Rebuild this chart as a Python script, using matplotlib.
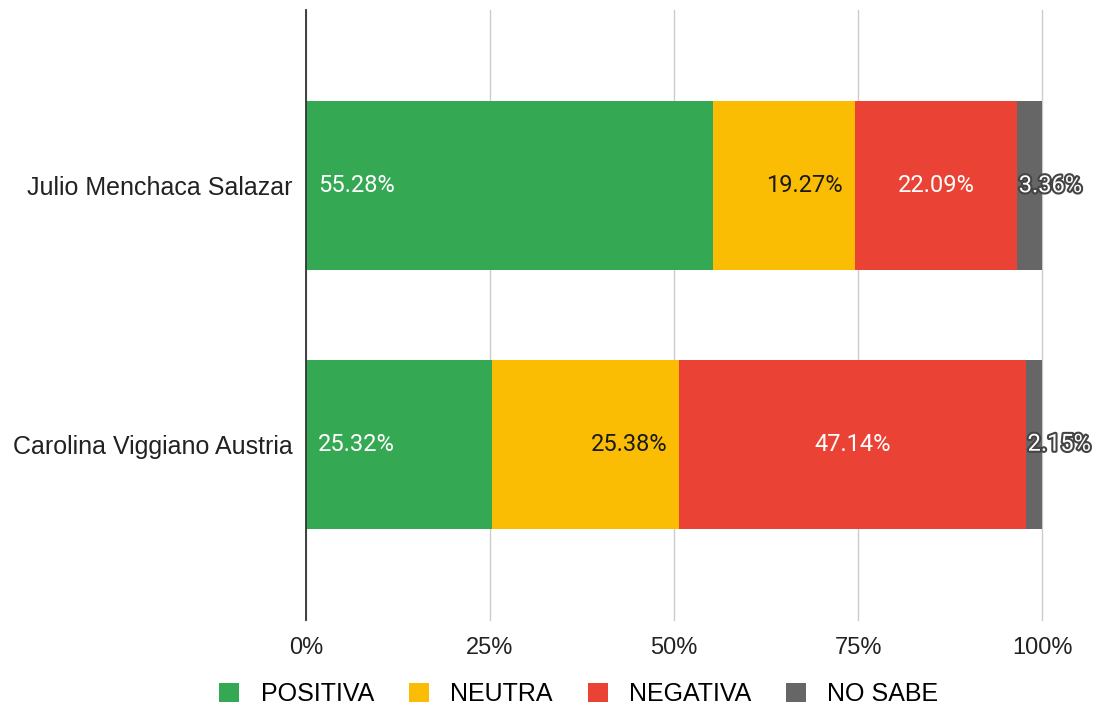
import matplotlib
matplotlib.use('Agg')
import matplotlib.pyplot as plt
import matplotlib.patheffects as pe
from matplotlib.patches import Patch

plt.rcParams['font.family'] = ['Liberation Sans', 'DejaVu Sans']

# Data
candidates = ["Julio Menchaca Salazar", "Carolina Viggiano Austria"]
series = ["POSITIVA", "NEUTRA", "NEGATIVA", "NO SABE"]
positiva = [55.28, 25.32]
neutra = [19.27, 25.38]
negativa = [22.09, 47.14]
no_sabe = [3.36, 2.15]
x_ticks = [0, 25, 50, 75, 100]

colors = ["#34a853", "#fbbc04", "#ea4335", "#666666"]
lbl_font = ['Roboto', 'DejaVu Sans']

fig = plt.figure(figsize=(11.05, 7.08), dpi=100)
ax = fig.add_axes([0.2769, 0.1243, 0.6661, 0.8616])

ypos = list(range(len(candidates)))
bar_h = 0.654
values = [positiva, neutra, negativa, no_sabe]
lefts = [0.0] * len(candidates)
for s, (vals, col) in enumerate(zip(values, colors)):
    ax.barh(ypos, vals, left=lefts, height=bar_h, color=col, zorder=3)
    for i, v in enumerate(vals):
        start = lefts[i]
        end = start + v
        txt = f"{v:.2f}%"
        if s == 0:
            ax.text(start + 1.6, i, txt, ha='left', va='center', color='white', fontsize=17,
                    family=lbl_font, zorder=4)
        elif s == 1:
            ax.text(end - 1.6, i, txt, ha='right', va='center', color='#1a1a1a', fontsize=17,
                    family=lbl_font, zorder=4)
        elif s == 2:
            ax.text((start + end) / 2, i, txt, ha='center', va='center', color='white', fontsize=17,
                    family=lbl_font, zorder=4)
        else:
            ax.text(start + 0.2, i, txt, ha='left', va='center', color='white', fontsize=17,
                    family=lbl_font, zorder=4,
                    path_effects=[pe.withStroke(linewidth=3, foreground='#444444')])
    lefts = [l + v for l, v in zip(lefts, vals)]

ax.set_xlim(0, 100)
ax.set_ylim(1.68, -0.68)
ax.set_yticks(ypos)
ax.set_yticklabels(candidates, fontsize=18, color='#222222')
ax.set_xticks(x_ticks)
ax.set_xticklabels([f"{t}%" for t in x_ticks], fontsize=17, color='#222222')
ax.tick_params(axis='x', length=0, pad=12)
ax.tick_params(axis='y', length=0, pad=9.5)

ax.grid(axis='x', color='#cccccc', linewidth=1, zorder=0)
for gl in ax.get_xgridlines():
    gl.set_clip_on(False)
for sp in ['top', 'right', 'bottom']:
    ax.spines[sp].set_visible(False)
ax.spines['left'].set_color('#333333')
ax.spines['left'].set_linewidth(1.3)
ax.spines['left'].set_zorder(5)

handles = [Patch(facecolor=c, label=l) for c, l in zip(colors, series)]
fig.legend(handles=handles, loc='center', bbox_to_anchor=(0.524, 0.02), ncol=4, frameon=False,
           fontsize=18, handlelength=0.8, handleheight=0.8, columnspacing=1.4, handletextpad=0.85)

fig.savefig("out.png", dpi=100)
